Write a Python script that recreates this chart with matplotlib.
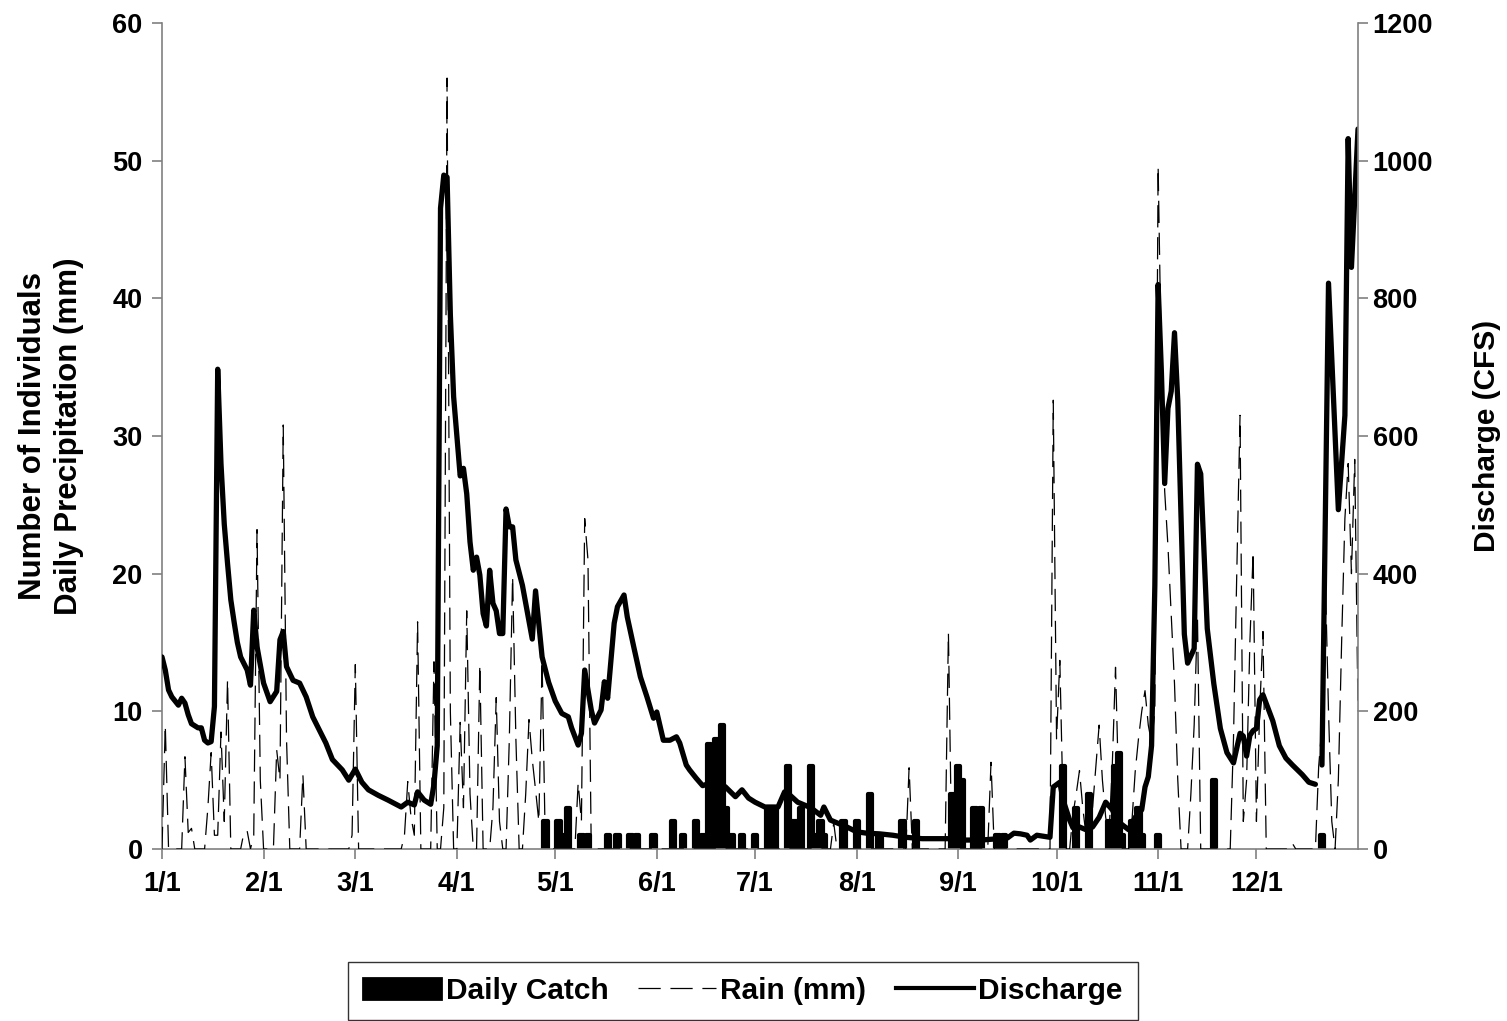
import matplotlib.pyplot as plt
from matplotlib.patches import Rectangle
from matplotlib.lines import Line2D

plt.rcParams['font.family'] = ['Liberation Sans', 'DejaVu Sans']
plt.rcParams['font.weight'] = 'bold'
plt.rcParams['lines.scale_dashes'] = False

# x positions are days after Jan 1
month_ticks = [0, 31, 59, 90, 120, 151, 181, 212, 243, 273, 304, 334]
month_labels = ['1/1', '2/1', '3/1', '4/1', '5/1', '6/1',
                '7/1', '8/1', '9/1', '10/1', '11/1', '12/1']

# daily catch (number of individuals)
catch_day = [117, 121, 122, 124, 128, 130, 136, 139, 143, 145, 150, 156, 159,
             163, 165, 167, 169, 171, 172, 174, 177, 181, 185, 187, 191, 193,
             195, 198, 200, 201, 202, 208, 212, 216, 219, 226, 230, 241, 243,
             244, 248, 250, 255, 257, 275, 279, 283, 289, 291, 292, 293, 296,
             298, 299, 304, 321, 354]
catch_n = [2, 2, 1, 3, 1, 1, 1, 1, 1, 1, 1, 2, 1,
           2, 1, 7.6, 8, 9, 3, 1, 1, 1, 3, 3, 6, 2,
           3, 6, 1, 2, 1, 2, 2, 4, 1, 2, 2, 4, 6,
           5, 3, 3, 1, 1, 6, 3, 4, 2, 6, 7, 1, 2,
           3, 1, 1, 5, 1]

# daily precipitation (mm)
rain_day = [0, 1, 2, 6, 7, 8, 9, 10, 13, 14, 15, 16, 17, 18, 19, 20, 21, 24,
            25, 26, 27, 28, 29, 30, 31, 34, 35, 36, 37, 38, 39, 42, 43, 44,
            57, 58, 59, 60, 73, 74, 75, 76, 77, 78, 79, 82, 83, 84, 85, 86,
            87, 88, 89, 90, 91, 92, 93, 94, 95, 96, 97, 98, 100, 101, 102,
            103, 104, 105, 106, 107, 108, 109, 110, 111, 112, 113, 114, 115,
            116, 117, 126, 127, 128, 129, 130, 131, 204, 205, 206, 227, 228,
            229, 239, 240, 241, 252, 253, 254, 271, 272, 273, 274, 275, 276,
            277, 278, 279, 280, 281, 282, 283, 284, 285, 286, 287, 288, 289,
            290, 291, 292, 293, 295, 296, 297, 298, 299, 300, 301, 302, 303,
            304, 305, 306, 307, 308, 309, 310, 311, 313, 314, 315, 316, 317,
            326, 327, 328, 329, 330, 331, 332, 333, 334, 335, 336, 337, 344,
            345, 346, 352, 353, 354, 355, 356, 357, 358, 359, 360, 361, 362,
            363, 364, 365]
rain_mm = [0, 9, 0, 0, 6.7, 1.2, 1.5, 0, 0, 3, 7, 1, 1, 8.5, 2, 12.3, 0, 0,
           1.2, 1.3, 0, 1, 23.2, 5, 0, 0, 7.2, 5, 30.8, 8, 0, 0, 5.4, 0,
           0, 1, 13.4, 0, 0, 1, 4.9, 2.3, 1, 16.5, 0, 0, 13.6, 0, 0, 3,
           56, 10, 0, 0, 9.2, 3, 17.3, 4, 0, 0, 13.4, 0, 0, 3, 11,
           2, 0, 0, 8, 19.8, 8, 0, 0, 4, 9.4, 6.5, 4.3, 2,
           13.7, 0, 0, 4.8, 2, 24, 21, 0, 0, 1.9, 0, 0, 5.9,
           0, 0, 15.7, 0, 0, 6.3, 0, 0, 32.6, 8, 13.7, 3, 0,
           0, 2.5, 4, 5.7, 3, 1, 0.5, 3, 6, 9, 5, 2.3, 1,
           6, 13.2, 4, 0, 0, 2, 5.6, 8, 10, 11.5, 9, 7.7, 10,
           49.6, 35, 26, 22, 17, 12, 5, 0, 0, 4, 9, 17, 0,
           0, 8, 20, 31.5, 2, 5, 15, 21.6, 2, 10, 15.8, 0, 0,
           0.4, 0, 0, 6, 8.9, 20, 10, 2, 0, 5, 15, 24, 28,
           20, 28.3, 10]

# river discharge (CFS); None marks the missing day
flow_day = [0, 1, 2, 3, 5, 6, 7, 8, 9, 11, 12, 13, 14, 15, 16, 17, 18, 19, 20,
            21, 22, 23, 24, 26, 27, 28, 29, 31, 33, 35, 36, 37, 38, 40, 42, 44,
            46, 48, 50, 52, 55, 57, 59, 61, 63, 66, 69, 73, 75, 77, 78, 80, 82,
            83, 84, 85, 86, 87, 88, 89, 90, 91, 92, 93, 94, 95, 96, 97, 98, 99,
            100, 101, 102, 103, 104, 105, 106, 107, 108, 110, 112, 113, 114,
            116, 118, 120, 122, 124, 125, 127, 128, 129, 131, 132, 134, 135,
            136, 138, 139, 141, 142, 144, 146, 148, 150, 151, 153, 155, 157,
            158, 160, 161, 163, 165, 168, 170, 172, 175, 177, 179, 181, 184,
            188, 190, 191, 194, 198, 201, 202, 204, 206, 209, 212, 215, 219,
            223, 227, 232, 240, 245, 250, 258, 260, 262, 264, 265, 267, 271,
            272, 274, 275, 277, 278, 280, 282, 284, 286, 288, 290, 292, 295,
            297, 299, 300, 301, 302, 303, 304, 305, 306, 307, 308, 309, 310,
            312, 313, 315, 316, 317, 319, 321, 323, 325, 327, 329, 330, 331,
            332, 333, 334, 335, 336, 339, 341, 343, 345, 348, 350, 352, 353,
            354, 356, 359, 361, 362, 363, 365]
flow_cfs = [279, 260, 231, 221, 209, 219, 212, 195, 182, 176, 176, 158, 154,
            156, 207, 697, 560, 472, 415, 362, 330, 300, 279, 260, 238, 347,
            294, 241, 214, 229, 304, 316, 265, 245, 241, 221, 192, 173, 154,
            130, 115, 100, 116, 97, 86, 78, 71, 61, 68, 64, 83, 71, 65, 94,
            150, 931, 979, 976, 776, 657, 600, 542, 553, 516, 446, 405, 424,
            398, 342, 324, 405, 357, 346, 313, 313, 494, 468, 468, 420, 383,
            331, 305, 375, 279, 242, 215, 197, 192, 176, 151, 168, 260, 202,
            183, 202, 243, 219, 328, 352, 369, 337, 293, 250, 221, 190, 199,
            158, 158, 163, 154, 122, 115, 103, 92, 97, 97, 90, 76, 86, 74, 68,
            61, 61, 83, 81, 68, 60, 49, 61, 42, 38, 32, 25, 23, 22, 20, 17, 15,
            15, 13, 13, 16, 23, 22, 20, 13, 20, 17, 90, 97, 71, 42, 31, 32, 28,
            32, 46, 68, 57, 39, 28, 46, 57, 90, 105, 150, 383, 820, 693, 531,
            640, 665, 750, 651, 312, 270, 291, 559, 545, 320, 240, 175, 140,
            125, 168, 164, 135, 165, 172, 175, 217, 224, 186, 150, 132, 122,
            108, 97, 94, None, 122, 822, 493, 630, 1032, 845, 1046]
flow_cfs = [float('nan') if v is None else v for v in flow_cfs]

W, H = 1507, 1021
fig = plt.figure(figsize=(W / 100, H / 100), dpi=100)
ax = fig.add_axes([162 / W, 1 - 849 / H, (1358 - 162) / W, (849 - 23) / H])
ax2 = ax.twinx()

bars = ax.bar(catch_day, catch_n, width=1.3, color='black',
              edgecolor='black', linewidth=3, zorder=2)
for b in bars:
    b.set_joinstyle('round')
ax.plot(rain_day, rain_mm, color='black', lw=0.9, dashes=(16, 7), zorder=3)
ax2.plot(flow_day, flow_cfs, color='black', lw=3.8,
         solid_joinstyle='round', solid_capstyle='round')

ax.set_xlim(0, 365)
ax.set_ylim(0, 60)
ax2.set_ylim(0, 1200)
ax.set_xticks(month_ticks, month_labels)
ax.set_yticks(range(0, 61, 10))
ax2.set_yticks(range(0, 1201, 200))

grey = '#808080'
ax.spines['top'].set_visible(False)
ax.spines['right'].set_visible(False)
ax2.spines['top'].set_visible(False)
ax2.spines['left'].set_visible(False)
ax2.spines['bottom'].set_visible(False)
for s in ('left', 'bottom'):
    ax.spines[s].set_color(grey)
    ax.spines[s].set_linewidth(1.2)
ax2.spines['right'].set_color(grey)
ax2.spines['right'].set_linewidth(1.2)

ax.tick_params(axis='both', direction='out', length=7, width=1.2, color=grey,
               labelsize=19.5)
ax.tick_params(axis='x', pad=9)
ax.tick_params(axis='y', pad=7)
ax2.tick_params(axis='y', direction='out', length=7, width=1.2, color=grey,
                labelsize=19.5, pad=3.5)

fig.text(51 / W, 1 - 436 / H, 'Number of Individuals\nDaily Precipitation (mm)',
         rotation=90, ha='center', va='center', multialignment='center',
         fontsize=22.5, fontweight='bold', linespacing=1.25)
fig.text(1487 / W, 1 - 436 / H, 'Discharge (CFS)', rotation=90,
         ha='center', va='center', fontsize=21.5, fontweight='bold')

handles = [Rectangle((0, 0), 1, 1, facecolor='black', edgecolor='black',
                     joinstyle='round', linewidth=2),
           Line2D([], [], color='black', lw=0.9, dashes=(16, 7)),
           Line2D([], [], color='black', lw=3)]
leg = fig.legend(handles, ['Daily Catch', 'Rain (mm)', 'Discharge'],
                 loc='upper center', bbox_to_anchor=(743 / W, 1 - 962 / H),
                 ncol=3, frameon=True, fancybox=False, edgecolor='black',
                 prop={'size': 21.5, 'weight': 'bold'},
                 handlelength=2.6, handletextpad=0.15, columnspacing=1.0,
                 borderpad=0.5, borderaxespad=0)
leg.get_frame().set_linewidth(1.0)

fig.savefig('out.png', dpi=100)
